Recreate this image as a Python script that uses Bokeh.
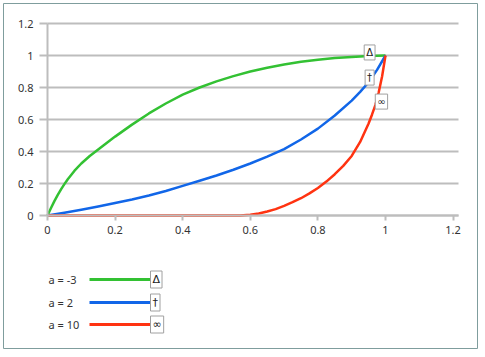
from bokeh.plotting import figure
from bokeh.models import LinearAxis, FixedTicker, Range1d
from bokeh.core.properties import value
from bokeh.embed import file_html
from bokeh.resources import INLINE

# ---- data ----
series_names = ["a = -3", "a = 2", "a = 10"]
series_symbols = ["Δ", "†", "∞"]
series_colors = ["#33c133", "#1166e8", "#ff3311"]

green_x = [0, 0.01, 0.02, 0.03, 0.04, 0.05, 0.06, 0.08, 0.1, 0.125, 0.15, 0.2, 0.25, 0.3,
           0.35, 0.4, 0.45, 0.5, 0.55, 0.6, 0.65, 0.7, 0.75, 0.8, 0.85, 0.9, 0.95, 1.0]
green_y = [0, 0.045, 0.088, 0.127, 0.163, 0.196, 0.227, 0.28, 0.325, 0.372, 0.413, 0.493,
           0.568, 0.638, 0.70, 0.755, 0.80, 0.838, 0.871, 0.9, 0.924, 0.944, 0.961, 0.974,
           0.984, 0.991, 0.997, 1.0]

blue_x = [0, 0.05, 0.1, 0.15, 0.2, 0.25, 0.3, 0.35, 0.4, 0.45, 0.5, 0.55, 0.6, 0.65, 0.7,
          0.75, 0.8, 0.85, 0.9, 0.925, 0.95, 0.975, 1.0]
blue_y = [0, 0.017, 0.036, 0.056, 0.078, 0.1, 0.125, 0.153, 0.185, 0.217, 0.25, 0.286, 0.325,
          0.368, 0.415, 0.475, 0.543, 0.625, 0.718, 0.773, 0.833, 0.91, 1.0]

red_x = [0, 0.2, 0.4, 0.57, 0.6, 0.625, 0.65, 0.675, 0.7, 0.725, 0.75, 0.775, 0.8, 0.825,
         0.85, 0.875, 0.9, 0.925, 0.95, 0.96, 0.97, 0.98, 0.99, 1.0]
red_y = [0, 0, 0, 0, 0.005, 0.013, 0.025, 0.04, 0.06, 0.083, 0.108, 0.138, 0.172, 0.212,
         0.258, 0.31, 0.372, 0.46, 0.575, 0.63, 0.69, 0.77, 0.87, 1.0]

# end-of-curve symbol anchors (data coords)
symbol_x = [0.953, 0.953, 0.988]
symbol_y = [1.019, 0.862, 0.712]

x_ticks = [0, 0.2, 0.4, 0.6, 0.8, 1.0, 1.2]
x_tick_labels = ["0", "0.2", "0.4", "0.6", "0.8", "1", "1.2"]
y_ticks = [0, 0.2, 0.4, 0.6, 0.8, 1.0, 1.2]
y_tick_labels = ["0", "0.2", "0.4", "0.6", "0.8", "1", "1.2"]

# ---- layout (pixel geometry) ----
W, H = 485, 357
X0PX, XSCALE = 47, 338.0      # pixel of x=0, pixels per unit
Y0PX, YSCALE = 215, 160.0     # pixel of y=0, pixels per unit
L, R, T, B = 3, 477, 3, 348   # frame box (outline)

def px2x(px):
    return (px - X0PX) / XSCALE

def py2y(py):
    return (Y0PX - py) / YSCALE

FONT = "Noto Sans"
GRID = "#bdbdbd"
TXT = "#333333"

p = figure(width=W, height=H, output_backend="svg", toolbar_location=None,
           x_axis_type=None, y_axis_type=None,
           x_range=Range1d(px2x(L), px2x(R)), y_range=Range1d(py2y(B), py2y(T)),
           min_border_left=L, min_border_right=W - R, min_border_top=T,
           min_border_bottom=H - B)
p.outline_line_color = "#7f9d9d"
p.outline_line_width = 1
p.background_fill_color = "white"
p.border_fill_color = "white"
p.grid.visible = False

# horizontal gridlines
grid_right = px2x(458)
p.segment(x0=[0] * len(y_ticks), y0=y_ticks, x1=[grid_right] * len(y_ticks), y1=y_ticks,
          line_color=GRID, line_width=2)

# axes located at data zero
xaxis = LinearAxis(fixed_location=0, ticker=FixedTicker(ticks=x_ticks),
                   major_label_overrides={t: s for t, s in zip(x_ticks, x_tick_labels)},
                   bounds=(0, grid_right))
xaxis.axis_line_color = GRID
xaxis.axis_line_width = 2
xaxis.major_tick_line_color = GRID
xaxis.major_tick_line_width = 2
xaxis.major_tick_in = 0
xaxis.major_tick_out = 5
xaxis.minor_tick_line_color = None
xaxis.major_label_standoff = 5
xaxis.major_label_text_font = FONT
xaxis.major_label_text_font_size = "11px"
xaxis.major_label_text_color = TXT
p.add_layout(xaxis, "below")

yaxis = LinearAxis(fixed_location=0, ticker=FixedTicker(ticks=y_ticks),
                   major_label_overrides={t: s for t, s in zip(y_ticks, y_tick_labels)},
                   bounds=(0, 1.2))
yaxis.axis_line_color = GRID
yaxis.axis_line_width = 2
yaxis.major_tick_line_color = GRID
yaxis.major_tick_line_width = 2
yaxis.major_tick_in = 0
yaxis.major_tick_out = 8
yaxis.minor_tick_line_color = None
yaxis.major_label_standoff = 6
yaxis.major_label_text_font = FONT
yaxis.major_label_text_font_size = "11px"
yaxis.major_label_text_color = TXT
p.add_layout(yaxis, "left")

# curves
curves = [(green_x, green_y), (blue_x, blue_y), (red_x, red_y)]
for (xs, ys), c in zip(curves, series_colors):
    p.line(xs, ys, line_color=c, line_width=2.5, line_join="round")

# end-of-curve symbols
p.text(x=symbol_x, y=symbol_y, text=series_symbols,
       text_align="center", text_baseline="middle",
       text_font=value("DejaVu Sans"), text_font_size="10px",
       text_color="#222222", background_fill_color="white",
       border_line_color="#a0a0a0", padding=2)

# legend (drawn below the plot area)
row_py = [279, 302, 324]
leg_y = [py2y(v) for v in row_py]
p.text(x=[px2x(48)] * 3, y=leg_y, text=series_names, text_font=value(FONT),
       text_font_size="11px", text_color=TXT, text_baseline="middle", text_align="left")
for yy, c in zip(leg_y, series_colors):
    p.line([px2x(89), px2x(150)], [yy, yy], line_color=c, line_width=3)
p.text(x=[px2x(150)] * 3, y=leg_y, text=series_symbols,
       text_align="left", text_baseline="middle",
       text_font=value("DejaVu Sans"), text_font_size="11px",
       text_color="#222222", background_fill_color="white",
       border_line_color="#a0a0a0", padding=2)

open("out.html", "w").write(file_html(p, INLINE))
